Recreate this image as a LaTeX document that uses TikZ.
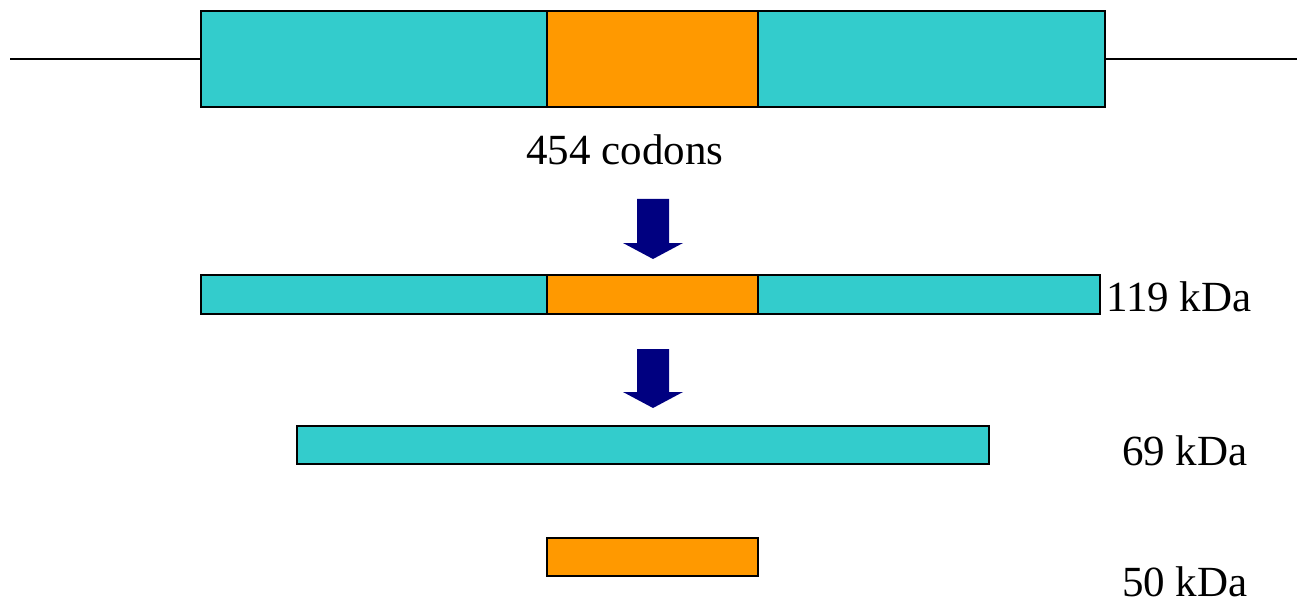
\documentclass[tikz,border=0pt]{standalone}
\usepackage{fontspec}
\setmainfont{Liberation Serif}
\definecolor{teal1}{HTML}{33CCCC}
\definecolor{orange1}{HTML}{FF9900}
\definecolor{navy1}{HTML}{000080}
\begin{document}
\begin{tikzpicture}[x=1pt,y=-1pt,
  seg/.style={draw=black,line width=1.5pt,inner sep=0pt,outer sep=0pt,anchor=north west},
  tealseg/.style={seg,fill=teal1},
  orangeseg/.style={seg,fill=orange1},
  lbl/.style={font=\fontsize{43}{50}\selectfont,inner sep=0pt,anchor=base west},
  bigarrow/.style={fill=navy1,draw=none}]
\useasboundingbox (0,0) rectangle (1303,604);
% top gene
\node[tealseg,minimum width=346,minimum height=96] (g1) at (201,11) {};
\node[orangeseg,minimum width=211,minimum height=96] (g2) at (547,11) {};
\node[tealseg,minimum width=347,minimum height=96] (g3) at (758,11) {};
\coordinate (lend) at (10,59);
\coordinate (rend) at (1297,59);
\draw[line width=1.5pt] (lend) -- (g1.west);
\draw[line width=1.5pt] (g3.east) -- (rend);
\node[lbl,anchor=base] (codons) at (625,165) {454 codons};
% arrow 1
\fill[bigarrow] (637,199) -- (669,199) -- (669,243) -- (683,243) -- (653,259) -- (623,243) -- (637,243) -- cycle;
% second row
\node[tealseg,minimum width=346,minimum height=39] (p1) at (201,275) {};
\node[orangeseg,minimum width=211,minimum height=39] (p2) at (547,275) {};
\node[tealseg,minimum width=342,minimum height=39] (p3) at (758,275) {};
\node[lbl] (k119) at (1106,311) {119 kDa};
% arrow 2
\fill[bigarrow] (637,349) -- (669,349) -- (669,392) -- (683,392) -- (653,408) -- (623,392) -- (637,392) -- cycle;
% third row
\node[tealseg,minimum width=692,minimum height=38] (q1) at (297,426) {};
\node[lbl] (k69) at (1122,465) {69 kDa};
% fourth row
\node[orangeseg,minimum width=211,minimum height=38] (r1) at (547,538) {};
\node[lbl] (k50) at (1122,596) {50 kDa};
\end{tikzpicture}
\end{document}
